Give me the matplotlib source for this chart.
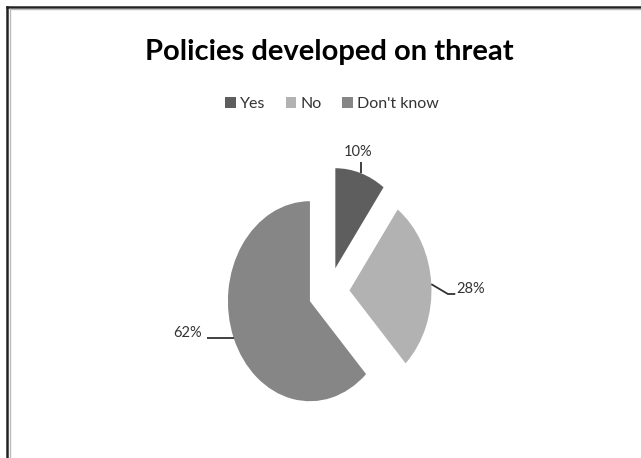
import numpy as np
import matplotlib.pyplot as plt
from matplotlib.lines import Line2D
from matplotlib.patches import Patch

# data
labels = ['Yes', 'No', "Don't know"]
values = [10, 28, 62]
colors = ['#5e5e5e', '#b2b2b2', '#868686']
pct_text = ['10%', '28%', '62%']

plt.rcParams['font.family'] = ['Lato', 'DejaVu Sans']

fig = plt.figure(figsize=(6.41, 4.58), dpi=100)
fig.patch.set_facecolor('white')

# axes placed so that the (stretched) pie sits where it is in the original
ax = fig.add_axes([165 / 641, 6 / 458, 328 / 641, 320 / 458])
wedges, _ = ax.pie(values, colors=colors, startangle=90, counterclock=False,
                   explode=[0.25, 0.25, 0.25], radius=1.0,
                   wedgeprops=dict(linewidth=0))
ax.set_aspect('auto')
ax.set_xlim(-2, 2)
ax.set_ylim(-1.6, 1.6)
ax.axis('off')

# label positions (data coords)
label_pos = [(0.36, 1.40), (1.73, 0.03), (-1.72, -0.41)]
for w, txt, lp in zip(wedges, pct_text, label_pos):
    ang = np.deg2rad((w.theta1 + w.theta2) / 2)
    cx, cy = w.center
    px, py = cx + np.cos(ang), cy + np.sin(ang)
    if txt == '10%':
        pts = [(px, py), (px, lp[1] - 0.1)]
    elif txt == '28%':
        pts = [(px, py), (1.45, -0.02), (1.54, -0.02)]
    else:
        pts = [(px, py), (-1.49, py)]
    ax.text(lp[0], lp[1], txt, ha='center', va='center', fontsize=10.5, color='#333333')
    xs, ys = zip(*pts)
    ax.plot(xs, ys, color='#333333', lw=1.3, solid_capstyle='butt')

fig.text(0.513, 0.886, 'Policies developed on threat', ha='center', va='center',
         fontsize=21, fontweight='bold', color='black')

handles = [Patch(facecolor=c, edgecolor='none') for c in colors]
fig.legend(handles, labels, loc='center', bbox_to_anchor=(0.518, 0.772), ncol=3,
           frameon=False, fontsize=11.5, handlelength=0.65, handleheight=0.65,
           handletextpad=0.25, columnspacing=1.3, labelcolor='#333333')

# frame lines (top and left only are visible)
fig.add_artist(Line2D([7 / 641, 1], [1 - 6.5 / 458, 1 - 6.5 / 458], color='#222222', lw=1.8))
fig.add_artist(Line2D([7 / 641, 7 / 641], [0, 1 - 6.5 / 458], color='#222222', lw=1.8))
fig.add_artist(Line2D([9.5 / 641, 1], [1 - 9 / 458, 1 - 9 / 458], color='#bbbbbb', lw=1.0))
fig.add_artist(Line2D([9.5 / 641, 9.5 / 641], [0, 1 - 9 / 458], color='#bbbbbb', lw=1.0))

fig.savefig('out.png', dpi=100)
